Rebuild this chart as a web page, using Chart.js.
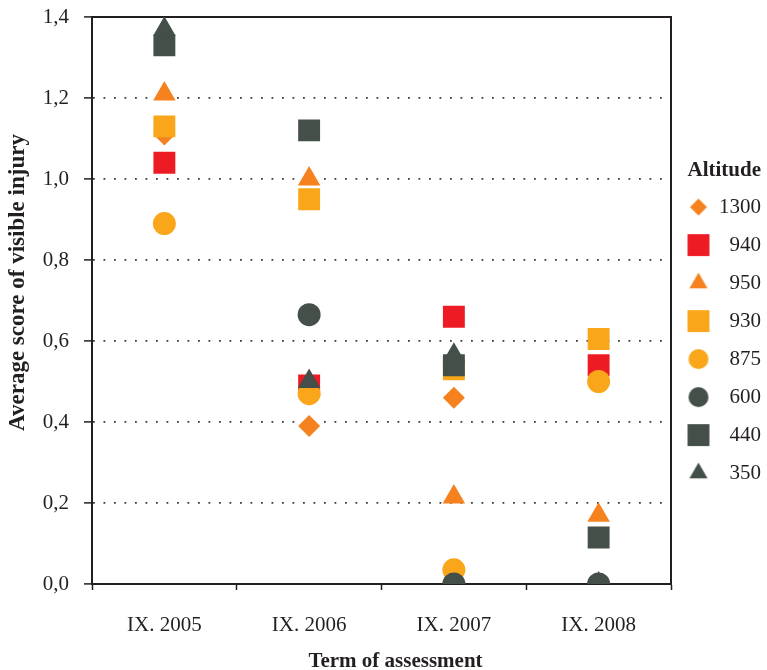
<!DOCTYPE html>
<html>
<head>
<meta charset="utf-8">
<script src="https://cdn.jsdelivr.net/npm/chart.js@4.4.1/dist/chart.umd.min.js"></script>
<style>
  html, body { margin: 0; padding: 0; background: #fff; }
  #wrap { width: 767px; height: 670px; }
</style>
</head>
<body>
<div id="wrap"><canvas id="injuryChart"></canvas></div>
<script>
// terms of assessment
const terms = ["IX. 2005", "IX. 2006", "IX. 2007", "IX. 2008"];

// average score of visible injury per altitude (m)
const alt1300 = [1.11, 0.39, 0.46, 0];
const alt940 = [1.04, 0.49, 0.66, 0.54];
const alt950 = [1.21, 1.0, 0.215, 0.17];
const alt930 = [1.13, 0.95, 0.53, 0.605];
const alt875 = [0.89, 0.47, 0.035, 0.5];
const alt600 = [null, 0.665, 0, 0];
const alt440 = [1.33, 1.12, 0.54, 0.115];
const alt350 = [1.37, 0.5, 0.565, 0];

const yTicks = [0, 0.2, 0.4, 0.6, 0.8, 1.0, 1.2, 1.4];

const orange = "#F5821F";
const red = "#ED1C24";
const amber = "#FAA61A";
const slate = "#454F49";
const ink = "#231F20";
const serif = "'Liberation Serif', 'Times New Roman', serif";

function series(label, data, color, style, radius, order) {
  return {
    label: label,
    data: data,
    backgroundColor: color,
    borderColor: color,
    borderWidth: 0,
    pointStyle: style,
    pointRadius: radius,
    pointHoverRadius: radius,
    showLine: false,
    order: order,
  };
}

// legend symbols have their own sizes, so draw them into small canvases
function legendMark(style, color, radius) {
  const c = document.createElement("canvas");
  c.width = 24;
  c.height = 24;
  const ctx = c.getContext("2d");
  ctx.fillStyle = color;
  ctx.strokeStyle = color;
  Chart.helpers.drawPoint(ctx, { pointStyle: style, radius: radius, rotation: 0, borderWidth: 0 }, 12, 12);
  return c;
}

const legendMarks = [
  legendMark("rectRot", orange, 8.5),
  legendMark("rect", red, 15.5),
  legendMark("triangle", orange, 10.5),
  legendMark("rect", amber, 15.5),
  legendMark("circle", amber, 10),
  legendMark("circle", slate, 10),
  legendMark("rect", slate, 15.5),
  legendMark("triangle", slate, 10.5),
];

// solid frame along the top and right of the plot
const frame = {
  id: "frame",
  beforeDatasetsDraw(chart) {
    const { ctx, chartArea: a } = chart;
    ctx.save();
    ctx.strokeStyle = ink;
    ctx.lineWidth = 2;
    ctx.beginPath();
    ctx.moveTo(a.left, a.top);
    ctx.lineTo(a.right, a.top);
    ctx.lineTo(a.right, a.bottom);
    ctx.stroke();
    ctx.restore();
  },
};

// axis titles in the original sit a little off the plot centre
const titleShift = {
  id: "titleShift",
  afterLayout(chart) {
    const shifts = { x: [14, 0], y: [0, -18] };
    Object.keys(shifts).forEach((id) => {
      const scale = chart.scales[id];
      if (scale._titleShifted) return;
      const draw = scale.drawTitle.bind(scale);
      const [dx, dy] = shifts[id];
      scale.drawTitle = () => {
        chart.ctx.save();
        chart.ctx.translate(dx, dy);
        draw();
        chart.ctx.restore();
      };
      scale._titleShifted = true;
    });
  },
};

new Chart(document.getElementById("injuryChart"), {
  type: "line",
  data: {
    labels: terms,
    datasets: [
      series("1300", alt1300, orange, "rectRot", 11, 7),
      series("940", alt940, red, "rect", 15.5, 6),
      series("950", alt950, orange, "triangle", 13, 5),
      series("930", alt930, amber, "rect", 15.5, 4),
      series("875", alt875, amber, "circle", 11.5, 3),
      series("600", alt600, slate, "circle", 11.5, 1),
      series("440", alt440, slate, "rect", 15.5, 0),
      series("350", alt350, slate, "triangle", 13, 2),
    ],
  },
  options: {
    responsive: true,
    maintainAspectRatio: false,
    animation: false,
    layout: { autoPadding: false, padding: { left: 0, top: 17, right: 6, bottom: 0 } },
    plugins: {
      tooltip: { enabled: false },
      legend: {
        position: "right",
        maxWidth: 90,
        title: {
          display: true,
          text: "Altitude",
          color: ink,
          position: "end",
          font: { family: serif, size: 21, weight: "bold" },
          // negative padding lifts the block a bit above centre
          padding: { top: -26, bottom: -6 },
        },
        labels: {
          usePointStyle: true,
          color: ink,
          padding: 17,
          textAlign: "right",
          font: { family: serif, size: 21 },
          generateLabels: (chart) =>
            Chart.defaults.plugins.legend.labels
              .generateLabels(chart)
              .map((item) => ({ ...item, pointStyle: legendMarks[item.datasetIndex] })),
          sort: (a, b) => a.datasetIndex - b.datasetIndex,
        },
      },
    },
    scales: {
      x: {
        offset: true,
        afterFit: (axis) => {
          axis.height = 86;
        },
        grid: {
          offset: true,
          drawOnChartArea: false,
          tickLength: 6,
          tickWidth: 1.5,
          tickColor: ink,
        },
        border: { color: ink, width: 2 },
        ticks: {
          color: ink,
          padding: 23,
          maxRotation: 0,
          font: { family: serif, size: 21 },
        },
        title: {
          display: true,
          text: "Term of assessment",
          color: ink,
          font: { family: serif, size: 21, weight: "bold" },
          padding: { top: 0, bottom: -4 },
        },
      },
      y: {
        min: 0,
        max: 1.4,
        afterFit: (axis) => {
          axis.width = 92;
          // the plot top is set by layout padding alone
          axis.paddingTop = 0;
          axis.paddingBottom = 0;
        },
        afterBuildTicks: (axis) => {
          axis.ticks = yTicks.map((v) => ({ value: v }));
        },
        grid: {
          color: "#3A3A3A",
          lineWidth: 1.8,
          tickLength: 8,
          tickWidth: 1.5,
          tickColor: ink,
          tickBorderDash: [],
        },
        border: { color: ink, width: 2, dash: [1.8, 8.7] },
        ticks: {
          color: ink,
          padding: 15,
          font: { family: serif, size: 21 },
          callback: (v) => Number(v).toFixed(1).replace(".", ","),
        },
        title: {
          display: true,
          text: "Average score of visible injury",
          color: ink,
          font: { family: serif, size: 23, weight: "bold" },
          padding: { top: 4, bottom: 0 },
        },
      },
    },
  },
  plugins: [frame, titleShift],
});
</script>
</body>
</html>
